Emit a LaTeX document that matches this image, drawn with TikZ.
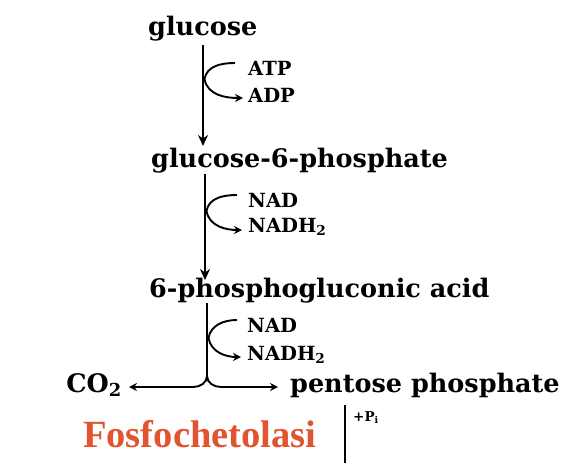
\documentclass[tikz,border=0pt]{standalone}
\usepackage{fontspec}
\setmainfont{DejaVu Serif}
\newfontfamily\redfont{Liberation Serif}
\usetikzlibrary{arrows.meta}
\definecolor{fosred}{RGB}{226,84,48}
\tikzset{
  met/.style={inner sep=0pt, anchor=base west, font=\fontsize{25.5}{28}\selectfont\bfseries},
  cof/.style={inner sep=0pt, anchor=base west, font=\fontsize{19.5}{21}\selectfont\bfseries},
  flow/.style={line width=2.1pt, -{Stealth[length=11pt,width=10pt]}},
  side/.style={line width=2.1pt},
  sidearr/.style={line width=1.9pt, -{Stealth[length=8pt,width=8pt]}},
}
\begin{document}
\begin{tikzpicture}[x=1pt,y=-1pt]
\useasboundingbox (0,0) rectangle (572,463);
\fill[white] (0,0) rectangle (572,463);
% metabolites
\node[met] (glc) at (148,35) {glucose};
\node[met] (g6p) at (151,167) {glucose-6-phosphate};
\node[met] (pga) at (149,297) {6-phosphogluconic acid};
\node[met] (pp) at (290,392) {pentose phosphate};
\node[met, anchor=base east] (co2) at (122,392) {CO\textsubscript{2}};
% cofactors
\node[cof] (atp) at (248,75) {ATP};
\node[cof] (adp) at (248,102) {ADP};
\node[cof] (nad1) at (248,207) {NAD};
\node[cof] (nadh1) at (248,232) {NADH\textsubscript{2}};
\node[cof] (nad2) at (247,332) {NAD};
\node[cof] (nadh2) at (247,360) {NADH\textsubscript{2}};
\node[inner sep=0pt, anchor=base west, font=\fontsize{13.5}{14}\selectfont\bfseries] (pi) at (353,421) {+P\textsubscript{i}};
\node[inner sep=0pt, anchor=base west, text=fosred, font=\redfont\fontsize{38.5}{40}\selectfont\bfseries] (fos) at (83,447) {Fosfochetolasi};
% coordinates
\coordinate (c1) at (203,45);
\coordinate (e1) at (203,146);
\coordinate (c2) at (205,174);
\coordinate (e2) at (205,280);
\coordinate (c3) at (207,303);
\coordinate (br) at (207,376);
\coordinate (ppdown) at (345,405);
\coordinate (ppend) at (345,463);
\coordinate (v1) at (204.5,79);
\coordinate (v2) at (206.5,211);
\coordinate (v3) at (208.5,338);
% main flow
\draw[flow] (c1) -- (e1);
\draw[flow] (c2) -- (e2);
\draw[side] (c3) -- (br);
\draw[sidearr] (br) to[out=-90,in=0] (193,387) -- (129,387);
\draw[sidearr] (br) to[out=-90,in=180] (221,387) -- (278,387);
\draw[side] (ppdown) -- (ppend);
% side curves
\draw[sidearr] (235,63) to[out=180,in=80] (v1) to[out=-80,in=180] (243,98);
\draw[sidearr] (237,195) to[out=180,in=80] (v2) to[out=-80,in=180] (242,230);
\draw[sidearr] (237,320) to[out=180,in=80] (v3) to[out=-80,in=180] (241,357);
\end{tikzpicture}
\end{document}
